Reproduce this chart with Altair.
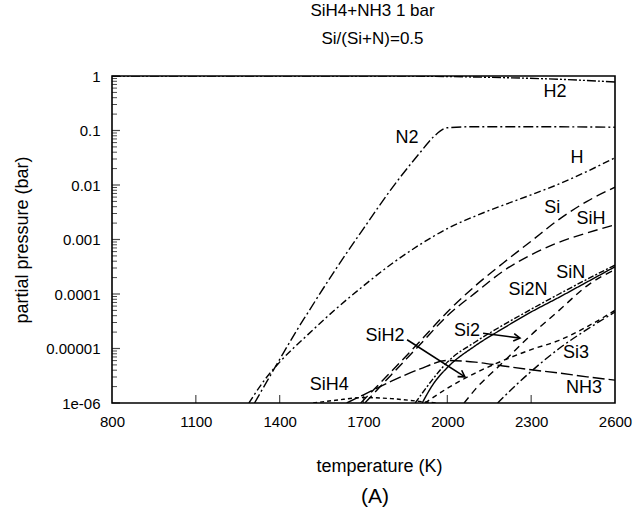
import json
import math
import altair as alt
import pandas as pd

FONT = "Liberation Sans"

# ---------------- text ----------------
title_lines = ["SiH4+NH3 1 bar", "Si/(Si+N)=0.5"]
x_title = "temperature (K)"
y_title = "partial pressure (bar)"
panel_tag = "(A)"

# ---------------- axes ----------------
x_ticks = [800, 1100, 1400, 1700, 2000, 2300, 2600]
y_ticks = [1e-6, 1e-5, 1e-4, 1e-3, 1e-2, 1e-1, 1]
y_tick_labels = ["1e-06", "0.00001", "0.0001", "0.001", "0.01", "0.1", "1"]

# ---------------- series (temperature K, log10 of partial pressure in bar) ----------------
species = ["H2", "N2", "H", "Si", "SiH", "SiN", "Si2N", "Si2", "SiH2", "Si3", "NH3", "SiH4"]

T_H2 = [800, 1000, 1200, 1400, 1600, 1800, 2000, 2200, 2400, 2600]
lp_H2 = [0, 0, 0, 0, 0, 0, -0.01, -0.03, -0.06, -0.11]

T_N2 = [1310, 1400, 1462, 1500, 1600, 1700, 1800, 1900, 1950, 2000, 2100, 2300, 2600]
lp_N2 = [-6, -5.2, -4.66, -4.35, -3.55, -2.8, -2.07, -1.42, -1.12, -0.95, -0.93, -0.93, -0.94]

T_H = [1290, 1350, 1400, 1500, 1600, 1700, 1800, 1900, 2000, 2100, 2200, 2300, 2400, 2500, 2600]
lp_H = [-6, -5.55, -5.25, -4.75, -4.28, -3.85, -3.45, -3.1, -2.8, -2.57, -2.37, -2.18, -1.98, -1.75, -1.5]

T_Si = [1690, 1800, 1900, 2000, 2100, 2200, 2300, 2400, 2500, 2600]
lp_Si = [-6, -5.42, -4.88, -4.33, -3.85, -3.43, -3.03, -2.63, -2.3, -2.04]

T_SiH = [1705, 1800, 1900, 2000, 2100, 2200, 2300, 2400, 2500, 2600]
lp_SiH = [-6, -5.48, -4.94, -4.4, -3.98, -3.58, -3.28, -3.05, -2.88, -2.73]

T_SiN = [1910, 1950, 2000, 2100, 2200, 2300, 2400, 2500, 2600]
lp_SiN = [-6, -5.65, -5.35, -4.95, -4.63, -4.33, -4.06, -3.78, -3.5]

T_Si2N = [1885, 1950, 2000, 2100, 2200, 2300, 2400, 2500, 2600]
lp_Si2N = [-6, -5.55, -5.25, -4.88, -4.57, -4.28, -4.0, -3.73, -3.47]

T_Si2 = [2060, 2100, 2200, 2300, 2400, 2500, 2600]
lp_Si2 = [-6, -5.75, -5.25, -4.75, -4.3, -3.85, -3.55]

T_SiH2 = [1920, 2000, 2100, 2200, 2300, 2400, 2500, 2600]
lp_SiH2 = [-6, -5.73, -5.45, -5.22, -5.02, -4.85, -4.6, -4.3]

T_Si3 = [2180, 2250, 2300, 2400, 2500, 2600]
lp_Si3 = [-6, -5.65, -5.42, -5.0, -4.65, -4.33]

T_NH3 = [1640, 1700, 1800, 1900, 2000, 2100, 2200, 2300, 2400, 2500, 2600]
lp_NH3 = [-6, -5.85, -5.6, -5.38, -5.22, -5.25, -5.32, -5.39, -5.45, -5.52, -5.58]

T_SiH4 = [1520, 1600, 1700, 1800, 1900, 1960]
lp_SiH4 = [-6, -5.95, -5.9, -5.92, -5.97, -6]

# ---------------- curve labels (T, log10 p) ----------------
label_text = ["H2", "N2", "H", "Si", "SiH", "SiN", "Si2N", "SiH2", "Si2", "Si3", "NH3", "SiH4"]
label_T = [2385, 1856, 2464, 2375, 2514, 2442, 2289, 1777, 2070, 2460, 2489, 1577]
label_lp = [-0.29, -1.14, -1.50, -2.42, -2.62, -3.61, -3.93, -4.77, -4.68, -5.08, -5.72, -5.67]

# arrows from label to curve (T1, lp1) -> (T2, lp2)
arrow_T1 = [1856, 2128]
arrow_lp1 = [-4.84, -4.72]
arrow_T2 = [2063, 2260]
arrow_lp2 = [-5.52, -4.81]

# ---------------- styles ----------------
dash_of = {
    "H2": [9, 2, 2, 2, 2, 2],
    "N2": [10, 3, 2, 3],
    "H": [7, 3, 2, 3],
    "Si": [10, 5],
    "SiH": [10, 5],
    "SiN": [1, 0],
    "Si2N": [6, 2, 2, 2],
    "Si2": [7, 5],
    "SiH2": [5, 4],
    "Si3": [8, 3, 2, 3],
    "NH3": [12, 4],
    "SiH4": [4, 3],
}

W, H = 503, 327
XMIN, XMAX = 800, 2600
YMIN, YMAX = 1e-6, 1.0

series = {
    "H2": (T_H2, lp_H2), "N2": (T_N2, lp_N2), "H": (T_H, lp_H), "Si": (T_Si, lp_Si),
    "SiH": (T_SiH, lp_SiH), "SiN": (T_SiN, lp_SiN), "Si2N": (T_Si2N, lp_Si2N),
    "Si2": (T_Si2, lp_Si2), "SiH2": (T_SiH2, lp_SiH2), "Si3": (T_Si3, lp_Si3),
    "NH3": (T_NH3, lp_NH3), "SiH4": (T_SiH4, lp_SiH4),
}

rows = []
for s in species:
    Ts, lps = series[s]
    for i, (t, lp) in enumerate(zip(Ts, lps)):
        rows.append({"species": s, "T": t, "p": 10 ** lp, "i": i})
df = pd.DataFrame(rows)

lab_df = pd.DataFrame({"label": label_text, "T": label_T, "p": [10 ** v for v in label_lp]})


def px(t):
    return (t - XMIN) / (XMAX - XMIN) * W


def py(lp):
    return -lp / 6.0 * H


arr_rows = []
for t1, l1, t2, l2 in zip(arrow_T1, arrow_lp1, arrow_T2, arrow_lp2):
    ang = math.degrees(math.atan2(py(l2) - py(l1), px(t2) - px(t1))) % 360
    arr_rows.append({"T": t1, "p": 10 ** l1, "T2": t2, "p2": 10 ** l2, "ang": ang})
arr_df = pd.DataFrame(arr_rows)

major_df = pd.DataFrame({"p": y_ticks})
minor_df = pd.DataFrame({"p": [d * k for d in y_ticks[:-1] for k in range(2, 10)]})
xt_df = pd.DataFrame({"T": x_ticks[1:-1]})

label_expr = json.dumps(y_tick_labels) + "[round(log(datum.value)/LN10)+6]"

xscale = alt.Scale(domain=[XMIN, XMAX], nice=False, zero=False)
yscale = alt.Scale(type="log", domain=[YMIN, YMAX], nice=False)

x_axis = alt.Axis(
    values=x_ticks, format="d", title=x_title, grid=False, ticks=False, tickSize=0,
    domain=False, labelFlush=False, labelPadding=11, labelFont=FONT, labelFontSize=15,
    labelColor="black", titleFont=FONT, titleFontSize=18, titleFontWeight="normal",
    titleColor="black", titleX=267, titleY=63, titleBaseline="middle", titleAlign="center",
)
y_axis = alt.Axis(
    values=y_ticks, labelExpr=label_expr, title=y_title, grid=False, ticks=False, tickSize=0,
    domain=False, labelFlush=False, labelPadding=12, labelFont=FONT, labelFontSize=15,
    labelColor="black", titleFont=FONT, titleFontSize=18, titleFontWeight="normal",
    titleColor="black", titleX=-90, titleY=H / 2, titleAngle=270, titleBaseline="middle",
    titleAlign="center",
)


def X(field):
    return alt.X(field, scale=xscale, axis=x_axis, title=x_title)


def Y(field):
    return alt.Y(field, scale=yscale, axis=y_axis, title=y_title)


lines = alt.Chart(df).mark_line(clip=True, strokeWidth=1.4, color="black", interpolate="monotone").encode(
    x=X("T:Q"),
    y=Y("p:Q"),
    detail="species:N",
    order="i:Q",
    strokeDash=alt.StrokeDash(
        "species:N",
        scale=alt.Scale(domain=species, range=[dash_of[s] for s in species]),
        legend=None,
    ),
)

labels = alt.Chart(lab_df).mark_text(
    font=FONT, fontSize=18, color="black", align="center", baseline="middle"
).encode(
    x=X("T:Q"),
    y=Y("p:Q"),
    text="label:N",
)

arrow_lines = alt.Chart(arr_df).mark_rule(color="black", strokeWidth=1.6).encode(
    x=X("T:Q"),
    y=Y("p:Q"),
    x2="T2:Q",
    y2="p2:Q",
)

arrow_heads = alt.Chart(arr_df).mark_point(
    shape="M -1 -0.6 L 0 0 L -1 0.6", filled=False, color="black", strokeWidth=1.6, size=160, opacity=1
).encode(
    x=X("T2:Q"),
    y=Y("p2:Q"),
    angle=alt.Angle("ang:Q", scale=None),
)

major_ticks = alt.Chart(major_df).mark_tick(orient="horizontal", color="black", size=8, thickness=1.2).encode(
    y=Y("p:Q"),
    x=alt.value(4),
)
minor_ticks = alt.Chart(minor_df).mark_tick(orient="horizontal", color="black", size=5, thickness=1).encode(
    y=Y("p:Q"),
    x=alt.value(2.5),
)
x_inner_ticks = alt.Chart(xt_df).mark_tick(orient="vertical", color="black", size=8, thickness=1.2).encode(
    x=X("T:Q"),
    y=alt.value(H - 4),
)

tag = alt.Chart(pd.DataFrame({"t": [panel_tag]})).mark_text(
    font=FONT, fontSize=21, color="black", align="center", baseline="middle"
).encode(text="t:N", x=alt.value(263), y=alt.value(H + 94))

chart = alt.layer(
    lines, major_ticks, minor_ticks, x_inner_ticks, labels, arrow_lines, arrow_heads, tag
).properties(
    width=W,
    height=H,
    title=alt.TitleParams(
        text=title_lines, font=FONT, fontSize=17, fontWeight="normal", color="black",
        anchor="middle", offset=21, lineHeight=28, dx=9,
    ),
    autosize=alt.AutoSizeParams(type="none"),
    padding={"left": 112, "top": 76, "right": 22, "bottom": 116},
).configure(
    background="white",
    view=alt.ViewConfig(stroke="black", strokeWidth=1.6),
)

chart.save("out.html", embed_options={"renderer": "svg", "actions": False})
